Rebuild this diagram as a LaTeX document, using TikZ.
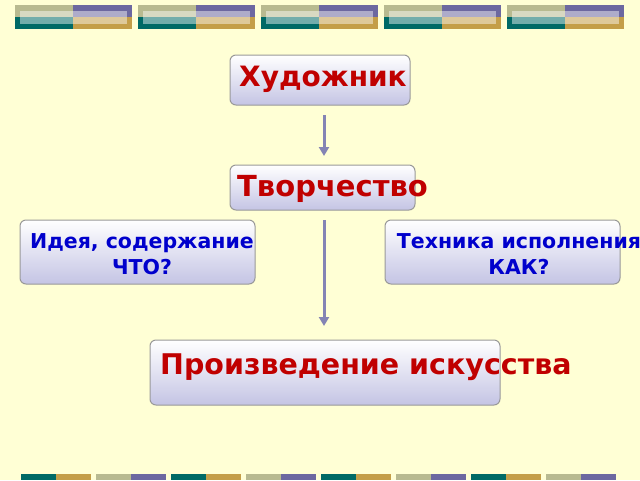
\documentclass[tikz,border=0pt]{standalone}
\usepackage{fontspec}
\setmainfont{DejaVu Sans}
\usetikzlibrary{arrows.meta}
\definecolor{bg}{HTML}{FFFFD5}
\definecolor{olive}{HTML}{B8BA90}
\definecolor{tealc}{HTML}{006A66}
\definecolor{purp}{HTML}{6C68A0}
\definecolor{gold}{HTML}{C49E48}
\definecolor{redt}{HTML}{C00000}
\definecolor{bluet}{HTML}{0000CC}
\definecolor{lav}{HTML}{C4C4E4}
\definecolor{arr}{HTML}{8484B4}
\begin{document}
\begin{tikzpicture}[x=1pt,y=-1pt,
  box/.style={draw=gray!80,line width=1pt,rounded corners=6pt,top color=white,bottom color=lav},
  arrowline/.style={draw=arr,line width=3pt,-{Triangle[length=9pt,width=10pt]}}]
\fill[bg] (0,0) rectangle (640,480);
\useasboundingbox (0,0) rectangle (640,480);
\foreach \x in {15,138,261,384,507}{
  \fill[olive] (\x,5) rectangle ++(58,12);
  \fill[tealc] (\x,17) rectangle ++(58,12);
  \fill[purp] (\x+58,5) rectangle ++(59,12);
  \fill[gold] (\x+58,17) rectangle ++(59,12);
  \fill[white,opacity=0.45] (\x+5,11) rectangle ++(107,13);
}
\foreach \x [count=\i] in {21,96,171,246,321,396,471,546}{
  \ifodd\i
    \fill[tealc] (\x,474) rectangle ++(35,6); \fill[gold] (\x+35,474) rectangle ++(35,6);
  \else
    \fill[olive] (\x,474) rectangle ++(35,6); \fill[purp] (\x+35,474) rectangle ++(35,6);
  \fi
}
\draw[box] (230,55) rectangle (410,105);
\node[text=redt,font=\bfseries\fontsize{28}{30}\selectfont,anchor=west,inner sep=0pt] (t1) at (239,79) {Художник};
\draw[box] (230,165) rectangle (415,210);
\node[text=redt,font=\bfseries\fontsize{29}{31}\selectfont,anchor=west,inner sep=0pt] (t2) at (237,189) {Творчество};
\draw[box] (20,220) rectangle (255,284);
\node[text=bluet,font=\bfseries\fontsize{20.5}{26}\selectfont,align=center,inner sep=0pt] (t3) at (142,254) {Идея, содержание\\ЧТО?};
\draw[box] (385,220) rectangle (620,284);
\node[text=bluet,font=\bfseries\fontsize{20.5}{26}\selectfont,align=center,inner sep=0pt] (t4) at (519,254) {Техника исполнения\\КАК?};
\draw[box] (150,340) rectangle (500,405);
\node[text=redt,font=\bfseries\fontsize{28.5}{30}\selectfont,anchor=west,inner sep=0pt] (t5) at (160,367) {Произведение искусства};
\coordinate (a1) at (324,115); \coordinate (a2) at (324,156);
\coordinate (b1) at (324,220); \coordinate (b2) at (324,326);
\draw[arrowline] (a1) -- (a2);
\draw[arrowline] (b1) -- (b2);
\end{tikzpicture}
\end{document}
